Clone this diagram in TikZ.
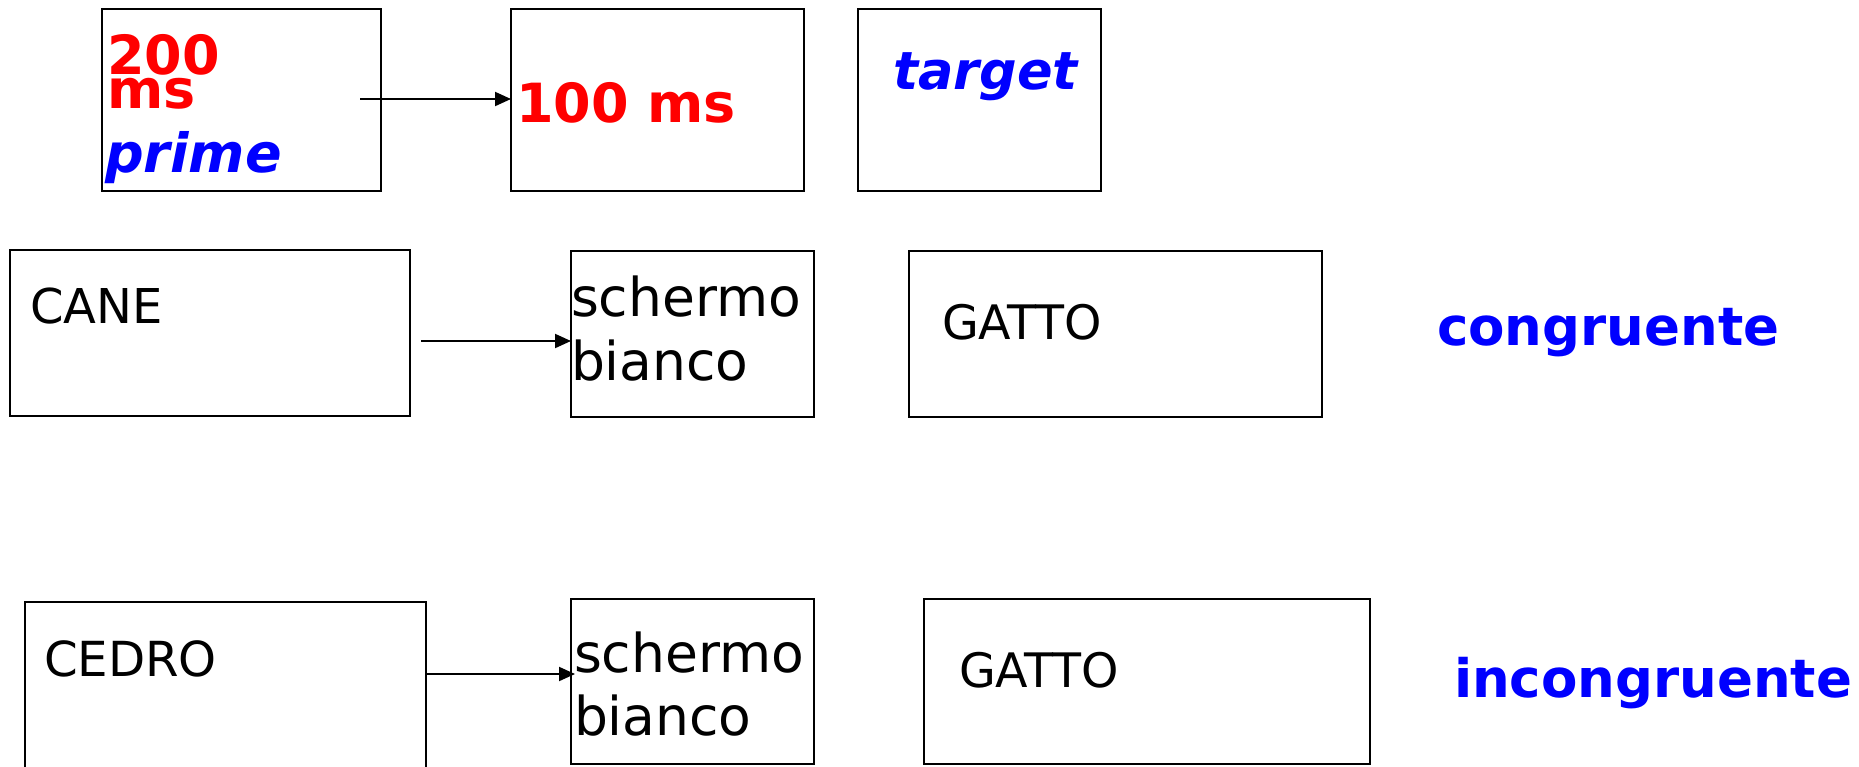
\documentclass[tikz,border=0pt]{standalone}
\usepackage{fontspec}
\setmainfont{DejaVu Sans}
\usetikzlibrary{arrows.meta,fit}
\definecolor{tred}{RGB}{255,0,0}
\definecolor{tblue}{RGB}{0,0,255}
\newcommand\fsz[1]{\fontsize{#1}{#1}\selectfont}
\begin{document}
\begin{tikzpicture}[x=1pt,y=-1pt,
  boxs/.style={draw=black,line width=2pt,inner sep=0pt,outer sep=0pt,rectangle},
  txt/.style={anchor=base west,inner sep=0pt,outer sep=0pt},
  redt/.style={txt,text=tred,font=\fsz{54}\bfseries},
  bluebi/.style={txt,text=tblue,font=\fsz{54}\bfseries\itshape},
  blueb/.style={txt,text=tblue,font=\fsz{53}\bfseries},
  blk/.style={txt,text=black,font=\fsz{#1}},
  arr/.style={draw=black,line width=2pt,-{Triangle[length=16pt,width=14pt]}}]
\useasboundingbox (0,0) rectangle (1859,766);
\clip (0,0) rectangle (1859,766);
% row 1
\node[boxs,fit={(102,9) (381,191)}] (b1) {};
\node[boxs,fit={(511,9) (804,191)}] (b2) {};
\node[boxs,fit={(858,9) (1101,191)}] (b3) {};
\node[redt,text depth=0pt] (t200) at (107,74) {200};
\node[redt,text height=29pt] (tms) at (107,108.5) {ms};
\node[bluebi] (tprime) at (105,172) {prime};
\node[redt] (t100) at (516,122) {100 ms};
\node[bluebi,font=\fsz{52.5}\bfseries\itshape] (ttarget) at (893,89) {target};
\coordinate (a1s) at (360,99);
\draw[arr] (a1s) -- (a1s -| b2.west);
% row 2
\node[boxs,fit={(10,250) (410,416)}] (c1) {};
\node[boxs,fit={(571,251) (814,417)}] (s1) {};
\node[boxs,fit={(909,251) (1322,417)}] (g1) {};
\node[blk=48] (tcane) at (30,323) {CANE};
\node[blk=53.5] (tsch1) at (571,316) {schermo};
\node[blk=53.5] (tbia1) at (571,380) {bianco};
\node[blk=47.5] (tgat1) at (942,339) {GATTO};
\node[blueb] (tcong) at (1437,345) {congruente};
\coordinate (a2s) at (421,341);
\draw[arr] (a2s) -- (a2s -| s1.west);
% row 3
\node[boxs,fit={(25,602) (426,775)}] (c2) {};
\node[boxs,fit={(571,599) (814,764)}] (s2) {};
\node[boxs,fit={(924,599) (1370,764)}] (g2) {};
\node[blk=48.3] (tcedro) at (44,676) {CEDRO};
\node[blk=53.5] (tsch2) at (574,672) {schermo};
\node[blk=53.5] (tbia2) at (574,735) {bianco};
\node[blk=47.5] (tgat2) at (959,687) {GATTO};
\node[blueb] (tincong) at (1454,697) {incongruente};
\coordinate (a3s) at (c2.east |- 0,674);
\coordinate (a3e) at ([xshift=4pt]s2.west |- 0,674);
\draw[arr] (a3s) -- (a3e);
\end{tikzpicture}
\end{document}
